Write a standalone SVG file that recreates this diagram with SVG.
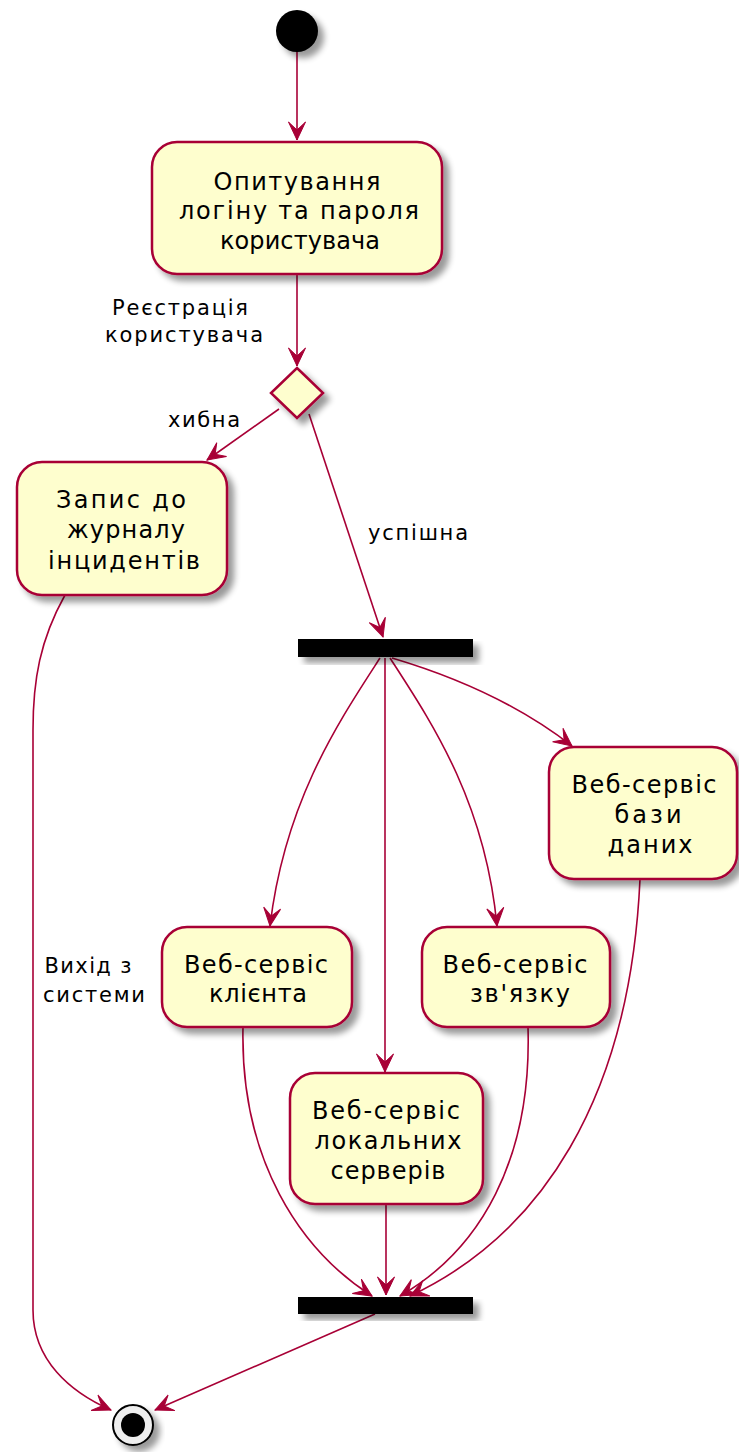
<svg xmlns="http://www.w3.org/2000/svg" width="739" height="1452" viewBox="0 0 739 1452">
<style>
.node{fill:#FEFECE;stroke:#A80036;stroke-width:2.5;filter:url(#sh)}
.bar{fill:#000;filter:url(#sh)}
.t{font-family:"DejaVu Sans",sans-serif;font-size:24px;fill:#000;text-anchor:middle}
.l{font-family:"DejaVu Sans",sans-serif;font-size:21px;fill:#000;text-anchor:middle}
.c{fill:none;stroke:#A80036;stroke-width:1.6;marker-end:url(#ah)}
</style>
<defs>
<filter id="sh" x="-20%" y="-20%" width="150%" height="160%">
<feGaussianBlur in="SourceAlpha" stdDeviation="3"/>
<feOffset dx="6" dy="6" result="b"/>
<feComponentTransfer><feFuncA type="linear" slope="0.4"/></feComponentTransfer>
<feMerge><feMergeNode/><feMergeNode in="SourceGraphic"/></feMerge>
</filter>
<marker id="ah" viewBox="-19 -10 20 20" refX="0" refY="0" markerWidth="20" markerHeight="20" markerUnits="userSpaceOnUse" orient="auto">
<path d="M0,0 L-18,-8.5 L-10,0 L-18,8.5 Z" fill="#A80036" stroke="#A80036" stroke-width="1"/>
</marker>
</defs>
<rect width="739" height="1452" fill="#fff"/>

<g id="connectors">
<path class="c" d="M297,52 L297,140"/>
<path class="c" d="M297,275 L297,366"/>
<path class="c" d="M279,409 L207,460"/>
<path class="c" d="M309,414 L383,637"/>
<path class="c" d="M380,658 C340,720 285,800 270,926"/>
<path class="c" d="M385,658 L385,1072"/>
<path class="c" d="M390,658 C430,720 485,800 497,926"/>
<path class="c" d="M392,658 Q500,690 572,746"/>
<path class="c" d="M243,1027 C240,1160 300,1250 372,1296"/>
<path class="c" d="M386,1204 L386,1295"/>
<path class="c" d="M528,1027 C532,1160 480,1250 400,1296"/>
<path class="c" d="M640,879 C630,1100 540,1235 410,1296"/>
<path class="c" d="M65,595 C40,640 33,680 33,730 L33,1310 C33,1360 70,1392 111,1410"/>
<path class="c" d="M375,1314 L155,1410"/>
<text class="l" x="180" y="315" textLength="136" lengthAdjust="spacing">Реєстрація</text>
<text class="l" x="184" y="342" textLength="158" lengthAdjust="spacing">користувача</text>
<text class="l" x="204" y="427" textLength="72" lengthAdjust="spacing">хибна</text>
<text class="l" x="418" y="540" textLength="100" lengthAdjust="spacing">успішна</text>
<text class="l" x="88" y="973" textLength="87" lengthAdjust="spacing">Вихід з</text>
<text class="l" x="94" y="1002" textLength="102" lengthAdjust="spacing">системи</text>
</g>

<g id="start"><circle cx="297" cy="31" r="21" fill="#000" filter="url(#sh)"/></g>

<g id="n1">
<rect class="node" x="152" y="142" width="290" height="132" rx="25"/>
<text class="t" x="297" y="190" textLength="167" lengthAdjust="spacing">Опитування</text>
<text class="t" x="299" y="219" textLength="240" lengthAdjust="spacing">логіну та пароля</text>
<text class="t" x="300" y="249" textLength="160" lengthAdjust="spacing">користувача</text>
</g>

<g id="decision"><polygon class="node" points="297,368 323,393 297,418 271,393"/></g>

<g id="n2">
<rect class="node" x="17" y="462" width="210" height="133" rx="25"/>
<text class="t" x="121" y="508" textLength="130" lengthAdjust="spacing">Запис до</text>
<text class="t" x="126" y="538" textLength="118" lengthAdjust="spacing">журналу</text>
<text class="t" x="124" y="569" textLength="152" lengthAdjust="spacing">інцидентів</text>
</g>

<g id="fork"><rect class="bar" x="298" y="639" width="175" height="18"/></g>

<g id="n3">
<rect class="node" x="549" y="747" width="188" height="132" rx="25"/>
<text class="t" x="644" y="793" textLength="145" lengthAdjust="spacing">Веб-сервіс</text>
<text class="t" x="648" y="823" textLength="67" lengthAdjust="spacing">бази</text>
<text class="t" x="650" y="853" textLength="85" lengthAdjust="spacing">даних</text>
</g>

<g id="n4">
<rect class="node" x="162" y="927" width="190" height="100" rx="25"/>
<text class="t" x="256" y="973" textLength="144" lengthAdjust="spacing">Веб-сервіс</text>
<text class="t" x="258" y="1002" textLength="98" lengthAdjust="spacing">клієнта</text>
</g>

<g id="n5">
<rect class="node" x="422" y="927" width="188" height="100" rx="25"/>
<text class="t" x="515" y="973" textLength="145" lengthAdjust="spacing">Веб-сервіс</text>
<text class="t" x="520" y="1002" textLength="100" lengthAdjust="spacing">зв'язку</text>
</g>

<g id="n6">
<rect class="node" x="290" y="1073" width="193" height="131" rx="25"/>
<text class="t" x="386" y="1119" textLength="148" lengthAdjust="spacing">Веб-сервіс</text>
<text class="t" x="388" y="1149" textLength="147" lengthAdjust="spacing">локальних</text>
<text class="t" x="388" y="1179" textLength="115" lengthAdjust="spacing">серверів</text>
</g>

<g id="join"><rect class="bar" x="298" y="1297" width="175" height="17"/></g>

<g id="end">
<circle cx="133" cy="1425" r="20" fill="#eee" stroke="#000" stroke-width="2" filter="url(#sh)"/>
<circle cx="133" cy="1425" r="12" fill="#000"/>
</g>
</svg>
